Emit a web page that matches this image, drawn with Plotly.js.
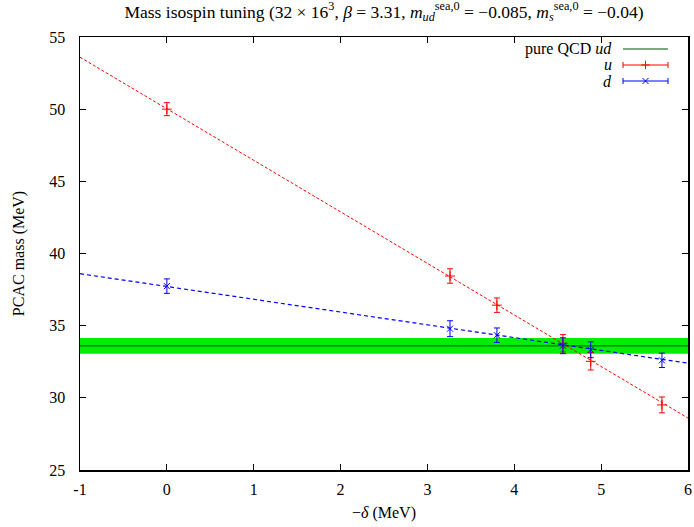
<!DOCTYPE html>
<html>
<head>
<meta charset="utf-8">
<script src="https://cdn.plot.ly/plotly-3.0.1.min.js"></script>
<style>html,body{margin:0;padding:0;background:#fff;}#plot{width:694px;height:527px;}</style>
</head>
<body>
<div id="plot"></div>
<script>
// Data
const deltaX = [0, 3.26, 3.80, 4.56, 4.88, 5.70];
const massU = [50.0, 38.44, 36.42, 33.78, 32.53, 29.51];
const errU = [0.45, 0.5, 0.5, 0.6, 0.6, 0.55];
const massD = [37.74, 34.79, 34.34, 33.61, 33.33, 32.6];
const errD = [0.5, 0.55, 0.5, 0.55, 0.55, 0.5];
const fitX = [-1, 6];
const fitU = [53.6, 28.6];
const fitD = [38.6, 32.4];
const udX = [-1, 6];
const udMass = 33.6;
const udErr = 0.55;
const xTicks = [-1, 0, 1, 2, 3, 4, 5, 6];
const yTicks = [25, 30, 35, 40, 45, 50, 55];

const FONT = "Liberation Serif, Times New Roman, serif";
const FS = 16;

const traces = [
  {x: udX, y: udX.map(() => udMass - udErr), mode: 'lines', line: {width: 0, color: '#00ee00'}, showlegend: false, hoverinfo: 'skip'},
  {x: udX, y: udX.map(() => udMass + udErr), mode: 'lines', fill: 'tonexty', fillcolor: '#00ee00', line: {width: 0, color: '#00ee00'}, showlegend: false, hoverinfo: 'skip'},
  {x: udX, y: udX.map(() => udMass), mode: 'lines', line: {width: 1, color: '#005000'}, showlegend: false},
  {x: fitX, y: fitU, mode: 'lines', line: {width: 1, color: '#ff0000', dash: '3px,2px'}, showlegend: false},
  {x: fitX, y: fitD, mode: 'lines', line: {width: 1.2, color: '#0000ff', dash: '4px,3px'}, showlegend: false},
  {x: deltaX, y: massU, mode: 'markers', marker: {symbol: 'cross-thin', size: 7, color: '#ff0000', line: {width: 1, color: '#ff0000'}},
   error_y: {type: 'data', array: errU, visible: true, color: '#ff0000', thickness: 1, width: 3}, showlegend: false},
  {x: deltaX, y: massD, mode: 'markers', marker: {symbol: 'x-thin', size: 6, color: '#0000ff', line: {width: 1, color: '#0000ff'}},
   error_y: {type: 'data', array: errD, visible: true, color: '#0000ff', thickness: 1, width: 3}, showlegend: false}
];

// custom gnuplot-style legend in paper coords
function px2x(p){return (p-80)/608;}
function py2y(p){return (470-p)/433;}
const legendRows = [
  {text: 'pure QCD <i>ud</i>', y: 49, color: '#005000', bar: false},
  {text: '<i>u</i>', y: 65, color: '#ff0000', bar: true},
  {text: '<i>d</i>', y: 81, color: '#0000ff', bar: true}
];
const shapes = [];
const annotations = [];
legendRows.forEach(r => {
  annotations.push({xref: 'paper', yref: 'paper', x: px2x(614), y: py2y(r.y), xanchor: 'right', yanchor: 'middle',
    text: r.text, showarrow: false, font: {family: FONT, size: FS, color: '#000'}});
  shapes.push({type: 'line', xref: 'paper', yref: 'paper', x0: px2x(623), x1: px2x(668), y0: py2y(r.y), y1: py2y(r.y), line: {color: r.color, width: 1}});
  if (r.bar) {
    [623, 668].forEach(p => shapes.push({type: 'line', xref: 'paper', yref: 'paper', x0: px2x(p), x1: px2x(p), y0: py2y(r.y - 3), y1: py2y(r.y + 3), line: {color: r.color, width: 1}}));
  }
});
const legendMarkers = [
  {x: [px2x(645.5)], y: [py2y(65)], symbol: 'cross-thin', color: '#ff0000'},
  {x: [px2x(645.5)], y: [py2y(81)], symbol: 'x-thin', color: '#0000ff'}
];
legendMarkers.forEach(m => traces.push({x: m.x, y: m.y, xaxis: 'x2', yaxis: 'y2', mode: 'markers',
  marker: {symbol: m.symbol, size: 6, color: m.color, line: {width: 1, color: m.color}}, showlegend: false, hoverinfo: 'skip'}));

const layout = {
  width: 694, height: 527,
  margin: {l: 80, r: 6, t: 37, b: 57},
  paper_bgcolor: '#fff', plot_bgcolor: '#fff',
  showlegend: false,
  font: {family: FONT, size: FS, color: '#000'},
  title: {text: 'Mass isospin tuning (32 × 16<sup>3</sup>, <i>β</i> = 3.31, <i>m</i><sub><i>ud</i></sub><sup>sea,0</sup> = −0.085, <i>m</i><sub><i>s</i></sub><sup>sea,0</sup> = −0.04)',
    x: 0.5, xref: 'paper', y: 0.99, yref: 'container', yanchor: 'top', font: {family: FONT, size: 17.5}},
  xaxis: {range: [-1, 6], tickvals: xTicks, ticktext: xTicks.map(String), ticks: 'inside', ticklen: 6, tickcolor: '#000',
    showline: true, linecolor: '#000', linewidth: 1.5, mirror: 'ticks', showgrid: false, zeroline: false, ticklabelstandoff: 4,
    tickfont: {family: FONT, size: FS}, title: {text: '−<i>δ</i> (MeV)', font: {family: FONT, size: FS}, standoff: 10}},
  yaxis: {range: [25, 55], tickvals: yTicks, ticks: 'inside', ticklen: 6, tickcolor: '#000',
    showline: true, linecolor: '#000', linewidth: 1.5, mirror: 'ticks', showgrid: false, zeroline: false, ticklabelstandoff: 10,
    tickfont: {family: FONT, size: FS}, title: {text: 'PCAC mass (MeV)', font: {family: FONT, size: FS}, standoff: 20}},
  xaxis2: {overlaying: 'x', range: [0, 1], visible: false, domain: [0, 1]},
  yaxis2: {overlaying: 'y', range: [0, 1], visible: false, domain: [0, 1]},
  shapes: shapes,
  annotations: annotations
};

Plotly.newPlot('plot', traces, layout, {staticPlot: true, displayModeBar: false});
</script>
</body>
</html>
